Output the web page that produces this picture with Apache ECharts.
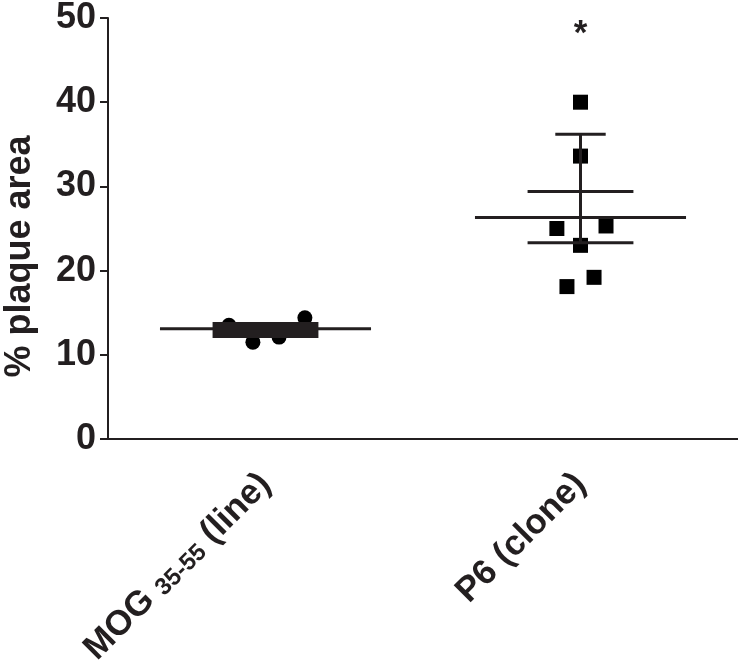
<!DOCTYPE html>
<html>
<head>
<meta charset="utf-8">
<script src="https://cdn.jsdelivr.net/npm/echarts@6/dist/echarts.min.js"></script>
<style>
  html, body { margin: 0; padding: 0; background: #fff; }
  #chart { width: 738px; height: 660px; }
</style>
</head>
<body>
<div id="chart"></div>
<script>
// groups on the x axis
var groups = ['MOG', 'P6'];
// individual animals (% plaque area) and their horizontal scatter offsets
var mogValues = [13.5, 11.5, 12.1, 14.4];
var mogJitter = [-0.116, -0.040, 0.043, 0.125];
var p6Values = [40.0, 33.6, 25.0, 25.3, 23.0, 19.2, 18.1];
var p6Jitter = [0, 0, -0.075, 0.081, 0, 0.043, -0.043];
// mean line, SEM caps, upper whisker
var groupMean = [13.1, 26.3];
var semLow = [12.0, 23.3];
var semHigh = [13.9, 29.4];
var whiskerTop = [null, 36.2];
// significance mark
var starGroup = 1;
var starValue = 48;

var FONT = 'Liberation Sans, Arial, Helvetica, sans-serif';
var INK = '#231f20';

var chart = echarts.init(document.getElementById('chart'));

function points(values, jitter, g) {
  return values.map(function (v, i) { return [g + jitter[i], v]; });
}

var errData = groups.map(function (g, i) {
  var top = whiskerTop[i] == null ? semHigh[i] : whiskerTop[i];
  return [i, groupMean[i], semLow[i], semHigh[i], top];
});

chart.setOption({
  backgroundColor: '#fff',
  animation: false,
  grid: { left: 108, right: 0, top: 18, bottom: 221, outerBoundsMode: 'none', containLabel: false },
  xAxis: [{
    type: 'category',
    data: groups,
    boundaryGap: true,
    axisLine: { lineStyle: { color: INK, width: 2 } },
    axisTick: { alignWithLabel: true, length: 8, lineStyle: { color: INK, width: 2 } },
    axisLabel: {
      rotate: 45,
      margin: 40,
      interval: 0,
      formatter: function (v) {
        return v === 'MOG' ? '{a|MOG }{b|35-55}{a| (line)}' : '{a|P6 (clone)}';
      },
      rich: {
        a: { fontFamily: FONT, fontWeight: 'bold', fontSize: 35, color: INK },
        b: { fontFamily: FONT, fontWeight: 'bold', fontSize: 24, color: INK, padding: [10, 0, 0, 0] }
      }
    },
    splitLine: { show: false }
  }, {
    type: 'value',
    min: -0.5,
    max: 1.5,
    show: false
  }],
  yAxis: {
    type: 'value',
    min: 0,
    max: 50,
    interval: 10,
    name: '% plaque area',
    nameLocation: 'middle',
    nameRotate: 90,
    nameGap: 70,
    nameTextStyle: { fontFamily: FONT, fontWeight: 'bold', fontSize: 36, color: INK, padding: [0, 56, 0, 0] },
    axisLine: { show: true, onZero: false, lineStyle: { color: INK, width: 2 } },
    axisTick: { show: true, length: 8, lineStyle: { color: INK, width: 2 } },
    axisLabel: { margin: 12, fontFamily: FONT, fontWeight: 'bold', fontSize: 36, color: INK },
    splitLine: { show: false }
  },
  series: [{
    type: 'scatter',
    xAxisIndex: 1,
    symbol: 'circle',
    symbolSize: 15,
    itemStyle: { color: '#000', opacity: 1 },
    data: points(mogValues, mogJitter, 0),
    z: 2
  }, {
    type: 'scatter',
    xAxisIndex: 1,
    symbol: 'rect',
    symbolSize: 15,
    itemStyle: { color: '#000', opacity: 1 },
    data: points(p6Values, p6Jitter, 1),
    z: 2
  }, {
    type: 'custom',
    xAxisIndex: 1,
    z: 3,
    data: errData,
    renderItem: function (params, api) {
      var g = api.value(0);
      var c = api.coord([g, api.value(1)]);
      var lo = api.coord([g, api.value(2)]);
      var hi = api.coord([g, api.value(3)]);
      var top = api.coord([g, api.value(4)]);
      var unit = api.size([1, 0])[0];
      var meanHalf = unit * 0.335;
      var capHalf = unit * 0.168;
      var topHalf = unit * 0.08;
      var st = { stroke: INK, lineWidth: 3 };
      var kids = [{
        type: 'line',
        shape: { x1: c[0] - meanHalf, y1: c[1], x2: c[0] + meanHalf, y2: c[1] },
        style: st
      }];
      if (lo[1] - hi[1] < 20) {
        // caps so close they merge into one block
        kids.push({
          type: 'rect',
          shape: { x: c[0] - capHalf, y: hi[1], width: capHalf * 2, height: lo[1] - hi[1] },
          style: { fill: INK }
        });
      } else {
        kids.push({ type: 'line', shape: { x1: c[0], y1: lo[1], x2: c[0], y2: top[1] }, style: st });
        kids.push({ type: 'line', shape: { x1: c[0] - capHalf, y1: lo[1], x2: c[0] + capHalf, y2: lo[1] }, style: st });
        kids.push({ type: 'line', shape: { x1: c[0] - capHalf, y1: hi[1], x2: c[0] + capHalf, y2: hi[1] }, style: st });
        if (top[1] < hi[1] - 1) {
          kids.push({ type: 'line', shape: { x1: c[0] - topHalf, y1: top[1], x2: c[0] + topHalf, y2: top[1] }, style: st });
        }
      }
      return { type: 'group', children: kids };
    }
  }, {
    type: 'scatter',
    xAxisIndex: 1,
    symbolSize: 1,
    itemStyle: { color: '#fff', opacity: 1 },
    label: {
      show: true,
      position: 'inside',
      formatter: '*',
      fontFamily: FONT,
      fontWeight: 'bold',
      fontSize: 35,
      color: INK
    },
    data: [[starGroup, starValue]]
  }]
});
</script>
</body>
</html>
